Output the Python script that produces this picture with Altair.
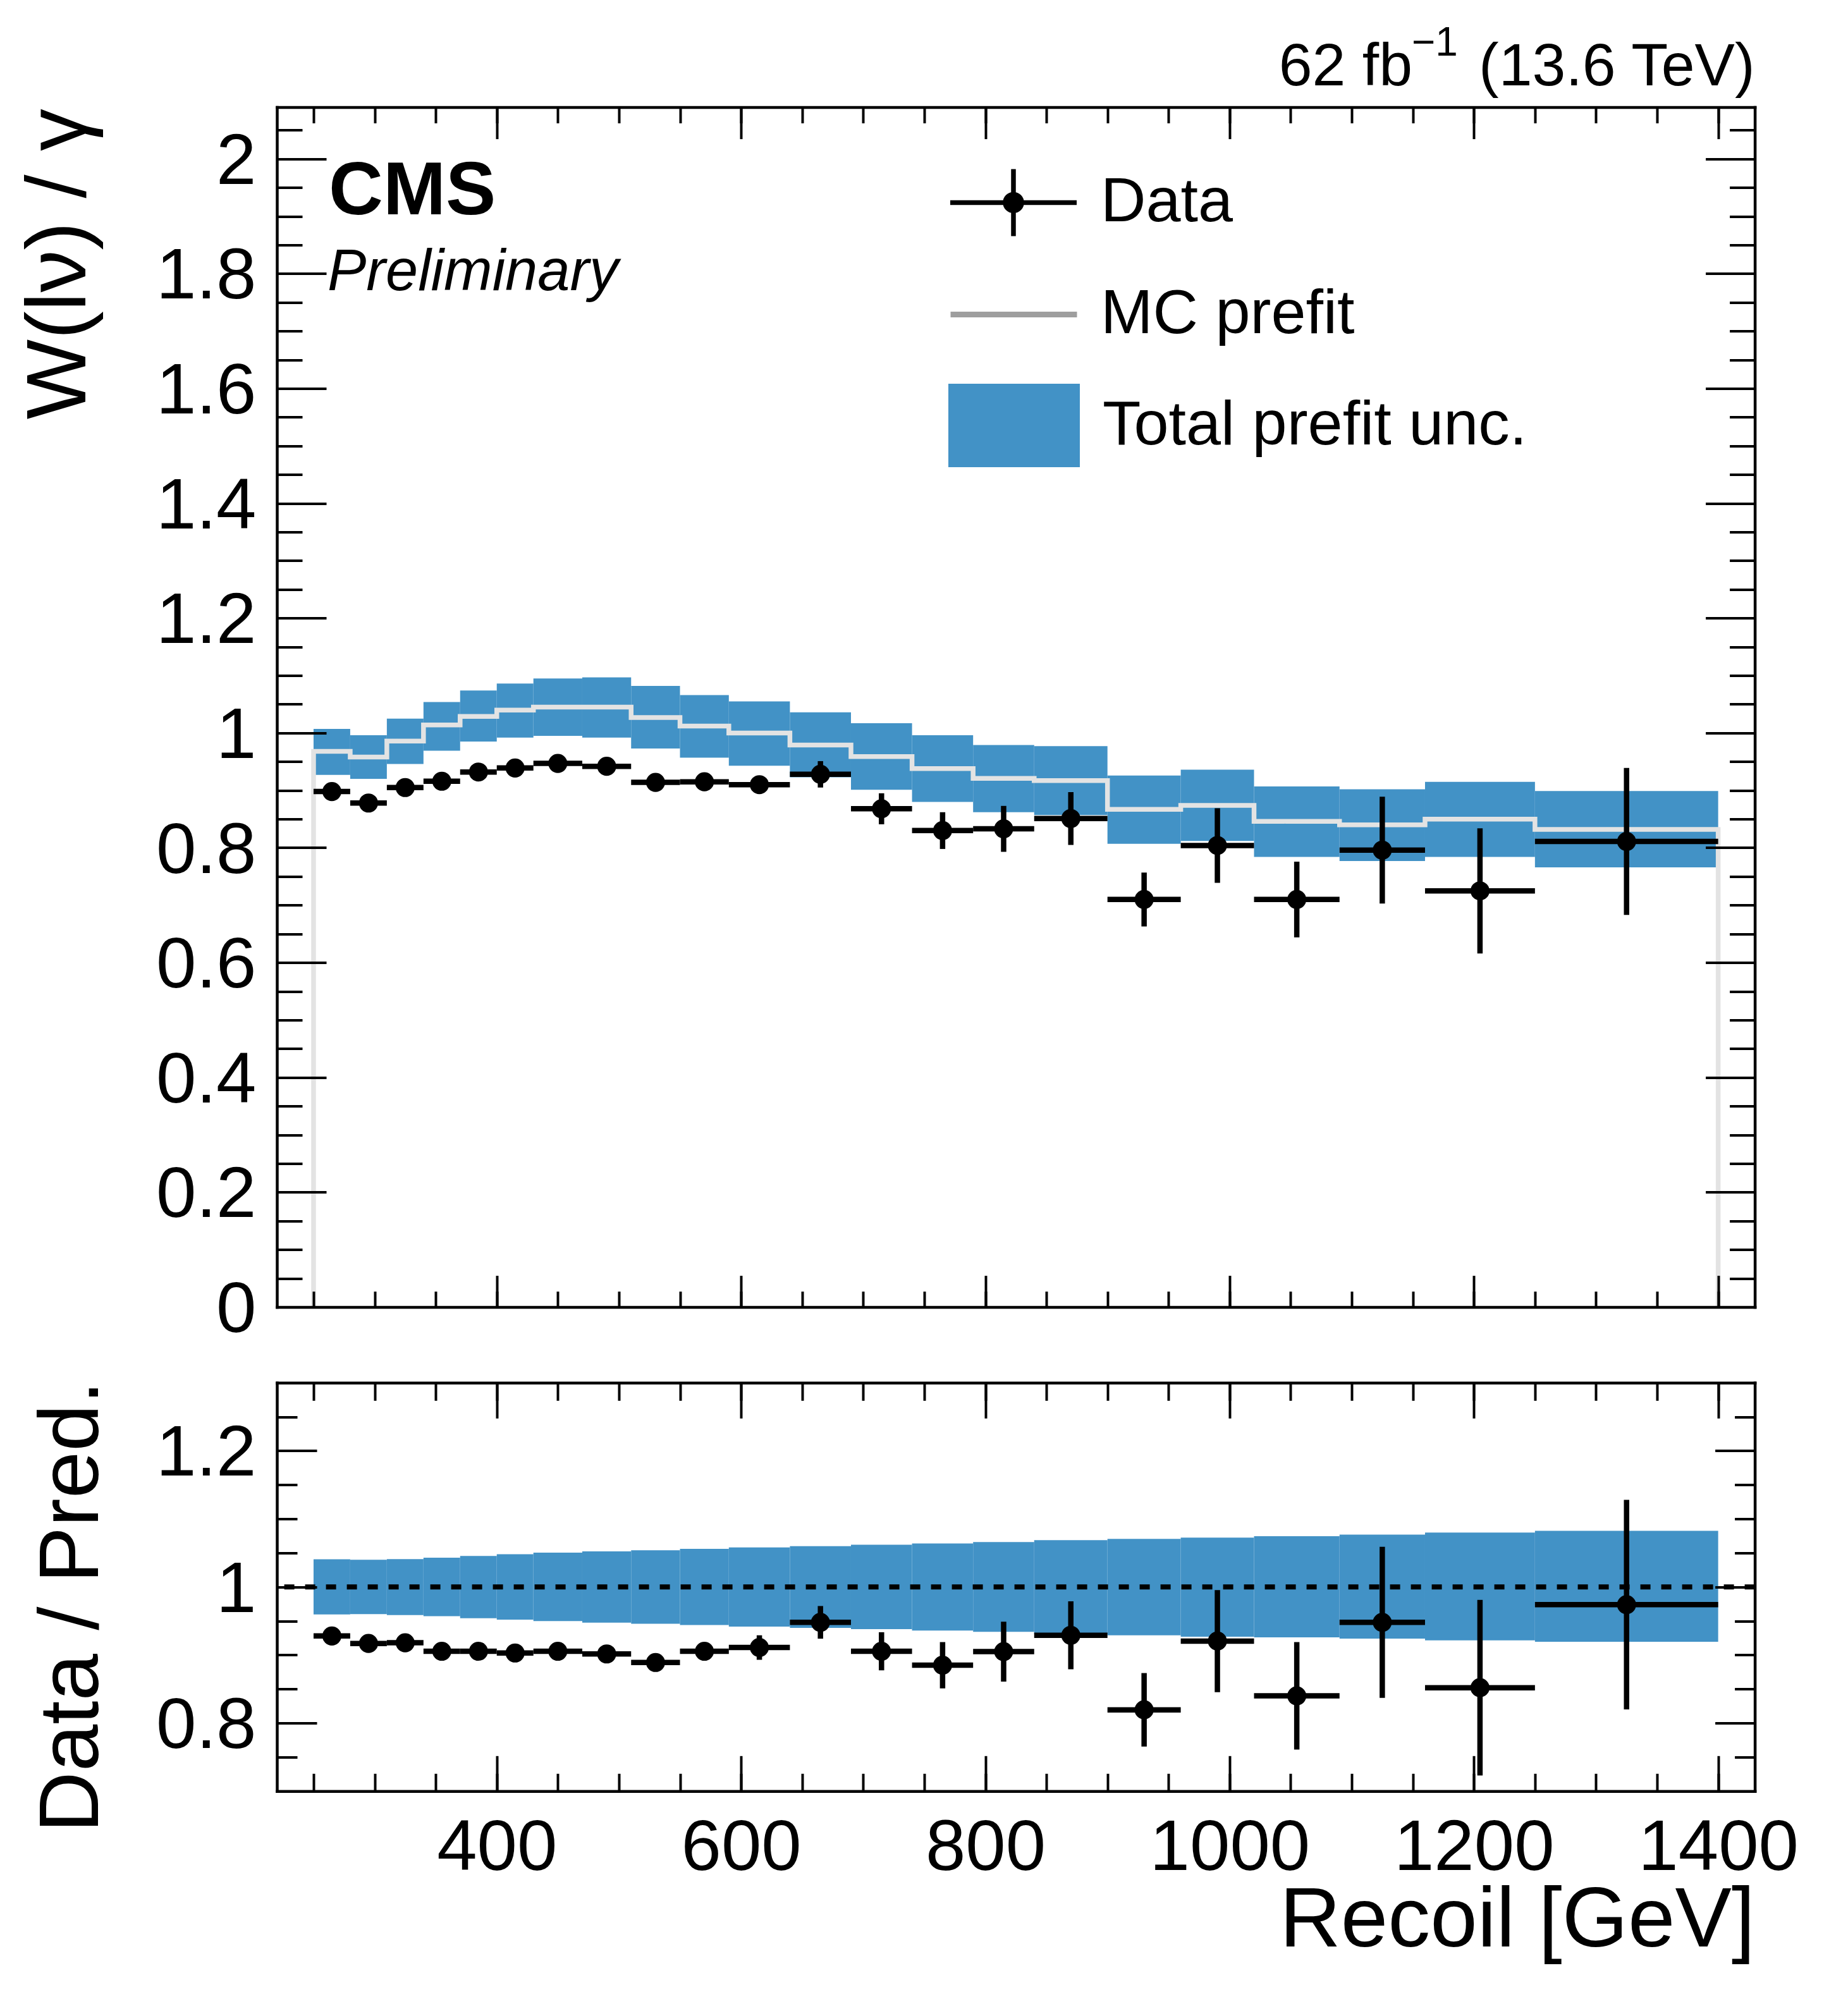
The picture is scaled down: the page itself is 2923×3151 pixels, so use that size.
import altair as alt
import pandas as pd

# ---------------- data ----------------
edges = [250, 280, 310, 340, 370, 400, 430, 470, 510, 550, 590, 640, 690, 740,
         790, 840, 900, 960, 1020, 1090, 1160, 1250, 1400]
mc_prefit = [0.968, 0.958, 0.986, 1.014, 1.029, 1.040, 1.045, 1.045, 1.027, 1.012, 1.000,
             0.979, 0.959, 0.938, 0.921, 0.917, 0.867, 0.874, 0.846, 0.840, 0.850, 0.832]
unc_up = [1.007, 0.996, 1.025, 1.054, 1.074, 1.086, 1.095, 1.097, 1.082, 1.066, 1.055,
          1.036, 1.017, 0.996, 0.979, 0.977, 0.926, 0.936, 0.907, 0.902, 0.915, 0.899]
unc_dn = [0.927, 0.920, 0.946, 0.969, 0.985, 0.992, 0.995, 0.992, 0.973, 0.957, 0.943,
          0.923, 0.901, 0.880, 0.862, 0.857, 0.807, 0.812, 0.784, 0.777, 0.784, 0.766]
data_val = [0.898, 0.878, 0.905, 0.916, 0.932, 0.939, 0.947, 0.942, 0.914, 0.915, 0.910,
            0.928, 0.868, 0.830, 0.833, 0.851, 0.710, 0.804, 0.710, 0.796, 0.725, 0.811]
data_err = [0.008, 0.008, 0.008, 0.008, 0.008, 0.009, 0.009, 0.009, 0.010, 0.011, 0.013,
            0.023, 0.027, 0.032, 0.040, 0.046, 0.047, 0.065, 0.066, 0.093, 0.109, 0.128]
ratio_val = [0.928, 0.917, 0.918, 0.9055, 0.9055, 0.903, 0.9055, 0.9016, 0.889, 0.9055, 0.911,
             0.948, 0.9055, 0.885, 0.905, 0.929, 0.8195, 0.9205, 0.840, 0.948, 0.852, 0.974]
ratio_err = [0.008, 0.008, 0.008, 0.008, 0.008, 0.009, 0.009, 0.009, 0.010, 0.011, 0.018,
             0.024, 0.028, 0.034, 0.044, 0.050, 0.054, 0.075, 0.079, 0.111, 0.129, 0.154]
ratio_unc_up = [1.0407, 1.040, 1.041, 1.043, 1.0456, 1.048, 1.0505, 1.0524, 1.054, 1.056, 1.058,
                1.060, 1.062, 1.064, 1.066, 1.0687, 1.0707, 1.0726, 1.0746, 1.077, 1.080, 1.0824]
ratio_unc_dn = [0.9596, 0.960, 0.9586, 0.957, 0.954, 0.952, 0.950, 0.9476, 0.946, 0.944, 0.9417,
                0.940, 0.938, 0.936, 0.934, 0.931, 0.929, 0.927, 0.926, 0.924, 0.9215, 0.9195]

x_major = [400, 600, 800, 1000, 1200, 1400]
x_minor = [250, 300, 350, 400, 450, 500, 550, 600, 650, 700, 750, 800, 850, 900, 950,
           1000, 1050, 1100, 1150, 1200, 1250, 1300, 1350, 1400]
yu_major = [0, 0.2, 0.4, 0.6, 0.8, 1.0, 1.2, 1.4, 1.6, 1.8, 2.0]
yu_minor = [round(0.05 * i, 2) for i in range(42)]
yr_major = [0.8, 1.0, 1.2]
yr_minor = [0.75, 0.8, 0.85, 0.9, 0.95, 1.0, 1.05, 1.1, 1.15, 1.2, 1.25]

# ---------------- geometry / style ----------------
W, H = 2337.6, 2663.7      # whole drawing area (both panels)
HU = 1898.0                # height of the upper panel
RT = 2017.7                # top of the ratio panel
FONT = "Liberation Sans"
BLUE = "#4292c6"

xs = alt.Scale(domain=[220, 1430], nice=False, zero=False)
yu = alt.Scale(domain=[0, 2.09], range=[HU, 0], nice=False, zero=False)
yr = alt.Scale(domain=[0.7, 1.3], range=[H, RT], nice=False, zero=False)

bins = pd.DataFrame({
    "lo": edges[:-1], "hi": edges[1:],
    "mc": mc_prefit, "up": unc_up, "dn": unc_dn,
    "val": data_val, "err": data_err,
    "rval": ratio_val, "rerr": ratio_err,
    "rup": ratio_unc_up, "rdn": ratio_unc_dn,
})
bins["c"] = (bins["lo"] + bins["hi"]) / 2
bins["vlo"] = bins["val"] - bins["err"]
bins["vhi"] = bins["val"] + bins["err"]
bins["rlo"] = bins["rval"] - bins["rerr"]
bins["rhi"] = bins["rval"] + bins["rerr"]
bins["unc"] = "Total prefit unc."
bins["dat"] = "Data"

line_x = [edges[0]] + edges[:-1] + [edges[-1], edges[-1]]
line_y = [0] + mc_prefit + [mc_prefit[-1], 0]
mcdf = pd.DataFrame({"x": line_x, "y": line_y, "i": list(range(len(line_x))),
                     "lab": ["MC prefit"] * len(line_x)})

one = pd.DataFrame({"a": [0]})


def axis(orient, offset, size=0, values=None, domain=False, labels=False, fmt="~g", **kw):
    d = dict(orient=orient, offset=offset, grid=False, domain=domain,
             domainColor="black", domainWidth=4.5, domainCap="square",
             ticks=size > 0, tickColor="black", tickWidth=4,
             labels=labels, title=None, zindex=3)
    if size > 0:
        d["tickSize"] = size
    if values is not None:
        d["values"] = values
    if labels:
        d.update(labelFont=FONT, labelFontSize=114, labelColor="black",
                 labelFlush=False, labelOverlap=False, labelLimit=1000, format=fmt)
    d.update(kw)
    return alt.Axis(**d)


carrier_df = pd.DataFrame({"x": [800.0], "yu": [1.0], "yr": [1.0]})


def carrier(yfield, yscale, xaxis, yaxis):
    return alt.Chart(carrier_df).mark_point(opacity=0).encode(
        x=alt.X("x:Q", scale=xs, axis=xaxis),
        y=alt.Y(f"{yfield}:Q", scale=yscale, axis=yaxis),
    )


TITLE_KW = dict(titleFont=FONT, titleFontSize=134, titleFontWeight="normal",
                titleColor="black", titleLimit=3000)

DU = H - HU  # distance from upper panel bottom to the whole bottom

carriers = [
    # upper panel
    carrier("yu", yu, axis("top", 0, domain=True), axis("left", 0, domain=True)),
    carrier("yu", yu, axis("top", -50, 50, x_major),
            axis("left", -78, 78, yu_major, labels=True, labelPadding=33, labelOffset=5,
                 title="W(lν) / γ", titleAngle=270, titleAlign="right",
                 titleBaseline="alphabetic", titleX=-381, titleY=2, **TITLE_KW)),
    carrier("yu", yu, axis("top", -25, 25, x_minor), axis("left", -40, 40, yu_minor)),
    carrier("yu", yu, axis("bottom", -DU, domain=True), axis("right", 0, domain=True)),
    carrier("yu", yu, axis("bottom", -DU - 50, 50, x_major), axis("right", -78, 78, yu_major)),
    carrier("yu", yu, axis("bottom", -DU - 25, 25, x_minor), axis("right", -40, 40, yu_minor)),
    # ratio panel
    carrier("yr", yr, axis("top", -RT, domain=True), axis("left", 0, domain=True)),
    carrier("yr", yr, axis("top", -RT - 56, 56, x_major),
            axis("left", -63, 63, yr_major, labels=True, labelPadding=33, labelOffset=5,
                 title="Data / Pred.", titleAngle=270, titleAlign="right",
                 titleBaseline="alphabetic", titleX=-346, titleY=2014, **TITLE_KW)),
    carrier("yr", yr, axis("top", -RT - 28, 28, x_minor), axis("left", -32, 32, yr_minor)),
    carrier("yr", yr, axis("bottom", 0, domain=True), axis("right", 0, domain=True)),
    carrier("yr", yr,
            axis("bottom", -56, 56, x_major, labels=True, labelPadding=34, fmt="d",
                 title="Recoil [GeV]", titleAlign="right", titleAnchor="end",
                 titleBaseline="alphabetic", titleX=W, titleY=301, **TITLE_KW),
            axis("right", -63, 63, yr_major)),
    carrier("yr", yr, axis("bottom", -28, 28, x_minor), axis("right", -32, 32, yr_minor)),
]

LEG = dict(title=None, orient="none", padding=0, labelFont=FONT, labelFontSize=99,
           labelColor="black", labelLimit=3000, symbolOpacity=1)

DATA_SYMBOL = ("M-1,0H1M0,-0.53V0.53"
               "M-0.13,0A0.13,0.13 0 1,0 0.13,0A0.13,0.13 0 1,0 -0.13,0Z")
BOX_SYMBOL = "M-1,-0.635H1V0.635H-1Z"

# ---------------- upper panel ----------------
band_u = alt.Chart(bins).mark_rect(strokeWidth=0).encode(
    x=alt.X("lo:Q", scale=xs, axis=None), x2="hi:Q",
    y=alt.Y("dn:Q", scale=yu, axis=None), y2="up:Q",
    fill=alt.Fill("unc:N", scale=alt.Scale(domain=["Total prefit unc."], range=[BLUE]),
                  legend=alt.Legend(legendX=1062, legendY=399.4, symbolType=BOX_SYMBOL,
                                    symbolSize=43264, symbolStrokeWidth=0,
                                    labelOffset=36, **LEG)),
)

mc_line = alt.Chart(mcdf).mark_line(color="#e3e3e3", strokeWidth=7.5,
                                    interpolate="step-after").encode(
    x=alt.X("x:Q", scale=xs, axis=None),
    y=alt.Y("y:Q", scale=yu, axis=None),
    order="i:Q",
    strokeDash=alt.StrokeDash("lab:N", scale=alt.Scale(domain=["MC prefit"], range=[[1, 0]]),
                              legend=alt.Legend(legendX=1061, legendY=223.3, symbolType="stroke",
                                                symbolSize=40000, symbolStrokeWidth=9,
                                                symbolStrokeColor="#9e9e9e",
                                                labelOffset=33, **LEG)),
)

err_v = alt.Chart(bins).mark_rule(color="black", strokeWidth=8.5).encode(
    x=alt.X("c:Q", scale=xs, axis=None),
    y=alt.Y("vlo:Q", scale=yu, axis=None), y2="vhi:Q",
)
err_h = alt.Chart(bins).mark_rule(color="black", strokeWidth=8.5).encode(
    x=alt.X("lo:Q", scale=xs, axis=None), x2="hi:Q",
    y=alt.Y("val:Q", scale=yu, axis=None),
)
pts = alt.Chart(bins).mark_circle(size=908, opacity=1).encode(
    x=alt.X("c:Q", scale=xs, axis=None),
    y=alt.Y("val:Q", scale=yu, axis=None),
    color=alt.Color("dat:N", scale=alt.Scale(domain=["Data"], range=["black"]),
                    legend=alt.Legend(legendX=1061, legendY=46.8, symbolType=DATA_SYMBOL,
                                      symbolSize=40000, symbolStrokeWidth=7.5,
                                      symbolStrokeColor="black", labelOffset=34, **LEG)),
)

# ---------------- ratio panel ----------------
band_r = alt.Chart(bins).mark_rect(strokeWidth=0, color=BLUE).encode(
    x=alt.X("lo:Q", scale=xs, axis=None), x2="hi:Q",
    y=alt.Y("rdn:Q", scale=yr, axis=None), y2="rup:Q",
)
unity = alt.Chart(one).mark_rule(color="black", strokeWidth=8, strokeDash=[16, 17]).encode(
    y=alt.Y(datum=1.0, scale=yr, axis=None),
)
rerr_v = alt.Chart(bins).mark_rule(color="black", strokeWidth=8.5).encode(
    x=alt.X("c:Q", scale=xs, axis=None),
    y=alt.Y("rlo:Q", scale=yr, axis=None), y2="rhi:Q",
)
rerr_h = alt.Chart(bins).mark_rule(color="black", strokeWidth=8.5).encode(
    x=alt.X("lo:Q", scale=xs, axis=None), x2="hi:Q",
    y=alt.Y("rval:Q", scale=yr, axis=None),
)
rpts = alt.Chart(bins).mark_circle(size=908, opacity=1, color="black").encode(
    x=alt.X("c:Q", scale=xs, axis=None),
    y=alt.Y("rval:Q", scale=yr, axis=None),
)

# ---------------- texts ----------------
def label(text, x, y, size, align="left", weight="normal", style="normal"):
    return alt.Chart(one).mark_text(
        text=text, font=FONT, fontSize=size, fontWeight=weight, fontStyle=style,
        align=align, baseline="alphabetic", color="black",
    ).encode(x=alt.value(x), y=alt.value(y))


texts = [
    label("CMS", 82, 169.4, 119, weight="bold"),
    label("Preliminary", 80, 289, 92, style="italic"),
    label("(13.6 TeV)", W, -34.4, 95, align="right"),
    label("\u22121", 1795, -81.8, 64),
    label("62 fb", 1796, -34.4, 95, align="right"),
]

chart = alt.layer(
    band_u, mc_line, err_v, err_h, pts,
    band_r, unity, rerr_v, rerr_h, rpts,
    *texts, *carriers,
).resolve_scale(y="independent").resolve_axis(x="independent", y="independent").properties(
    width=W, height=H,
    padding={"left": 430, "top": 161.6, "right": 120, "bottom": 300},
    autosize=alt.AutoSizeParams(type="none"),
).configure_view(strokeWidth=0)

chart.save("out.html", embed_options={"renderer": "svg", "actions": False})
